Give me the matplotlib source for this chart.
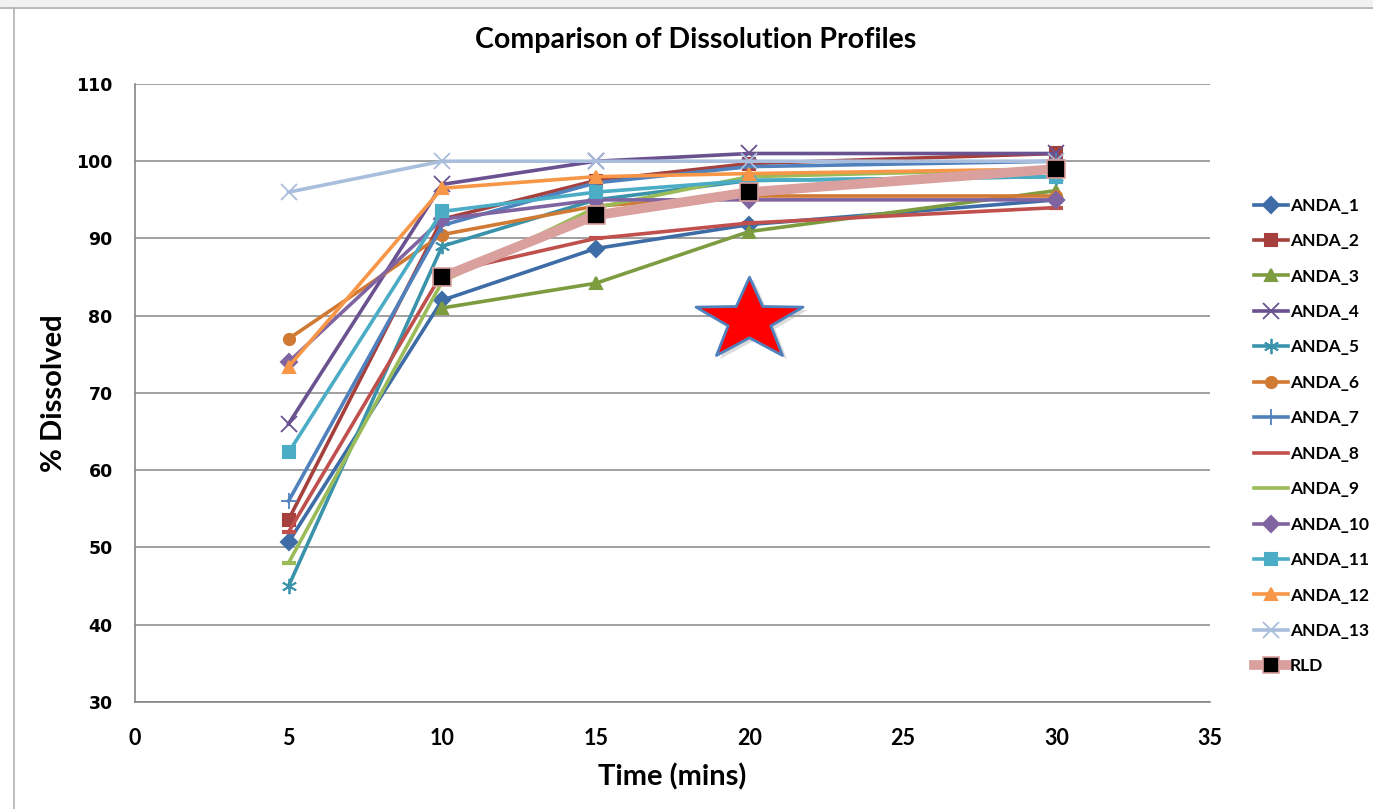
import numpy as np
import matplotlib.pyplot as plt
from matplotlib.path import Path
from matplotlib.lines import Line2D

# time points (mins)
times = [5, 10, 15, 20, 30]

anda_1 = [50.7, 82.0, 88.7, 91.8, 95.0]
anda_2 = [53.6, 92.5, 97.5, 99.7, 101.0]
anda_3 = [np.nan, 81.0, 84.2, 90.9, 96.2]
anda_4 = [66.0, 97.0, 100.0, 101.0, 101.0]
anda_5 = [45.0, 89.0, 95.0, 97.5, 98.0]
anda_6 = [77.0, 90.5, 94.2, 95.5, 95.5]
anda_7 = [56.0, 91.7, 97.2, 99.3, 100.0]
anda_8 = [52.0, 85.5, 90.0, 92.0, 94.0]
anda_9 = [48.0, 84.4, 94.0, 98.0, 99.0]
anda_10 = [74.0, 92.5, 95.0, 95.0, 95.0]
anda_11 = [62.3, 93.5, 96.0, 97.5, 98.0]
anda_12 = [73.4, 96.5, 98.0, 98.4, 99.0]
anda_13 = [96.0, 100.0, 100.0, 100.0, 100.0]
rld = [np.nan, 85.0, 93.0, 96.0, 99.0]

labels = ["ANDA_1", "ANDA_2", "ANDA_3", "ANDA_4", "ANDA_5", "ANDA_6", "ANDA_7",
          "ANDA_8", "ANDA_9", "ANDA_10", "ANDA_11", "ANDA_12", "ANDA_13"]
colors = ["#3D6CA6", "#A5403D", "#7D9C40", "#6A5190", "#3A93AB", "#D07A34", "#4F81BD",
          "#C0504D", "#9BBB59", "#8064A2", "#4BACC6", "#F79646", "#A9BEDC"]
markers = ["D", "s", "^", "x", (6, 2, 0), "o", "+", "_", "_", "D", "s", "^", "x"]

# annotation star
star_x, star_y = 20, 79.5


def star_path(inner=0.40, squash=0.77):
    ang = np.pi / 2 + np.arange(10) * np.pi / 5
    rad = np.where(np.arange(10) % 2 == 0, 1.0, inner)
    verts = np.column_stack([rad * np.cos(ang), rad * np.sin(ang) * squash])
    verts = np.vstack([verts, verts[:1]])
    codes = [Path.MOVETO] + [Path.LINETO] * 9 + [Path.CLOSEPOLY]
    return Path(verts, codes)


def main():
    fig = plt.figure(figsize=(13.73, 8.09), dpi=100)
    ax = fig.add_axes([0.0983, 0.1323, 0.783, 0.7639])

    series = [anda_1, anda_2, anda_3, anda_4, anda_5, anda_6, anda_7,
              anda_8, anda_9, anda_10, anda_11, anda_12, anda_13]
    handles = []
    for vals, lab, col, mk in zip(series, labels, colors, markers):
        ms = 8
        mew = 1.5
        if mk in ("x", "+") or isinstance(mk, tuple):
            ms, mew = 11, 1.3
        if mk == "_":
            ms, mew = 10, 3
        ax.plot(times, vals, color=col, lw=2.6, marker=mk, ms=ms, mew=mew,
                mec=col, mfc=col, zorder=3)
        leg_mk = None if mk == "_" else mk
        handles.append(Line2D([], [], color=col, lw=2.6, marker=leg_mk, ms=ms,
                              mew=mew, mec=col, mfc=col, label=lab))

    ax.plot(times, rld, color="#D9A09E", lw=7, marker="s", ms=13, mfc="black",
            mec="#D9A09E", mew=1.2, zorder=4)
    handles.append(Line2D([], [], color="#D9A09E", lw=7, marker="s", ms=11,
                          mfc="black", mec="#D9A09E", mew=1.2, label="RLD"))

    sp = star_path()
    ax.plot(star_x + 0.12, star_y - 0.5, marker=sp, ms=78, color="#999999",
            alpha=0.35, mew=0, zorder=5)
    ax.plot(star_x, star_y, marker=sp, ms=77, mfc="red", mec="#4F81BD",
            mew=2, zorder=6)

    ax.set_xlim(0, 35)
    ax.set_ylim(30, 110)
    ax.set_xticks(range(0, 36, 5))
    ax.set_yticks(range(30, 111, 10))
    ax.grid(axis="y", color="#868686", lw=1.1)
    ax.set_axisbelow(True)
    for s in ("top", "right"):
        ax.spines[s].set_visible(False)
    for s in ("left", "bottom"):
        ax.spines[s].set_color("#868686")
        ax.spines[s].set_linewidth(1.2)
    ax.tick_params(length=0)
    for t in ax.get_yticklabels():
        t.set_fontfamily("DejaVu Sans")
        t.set_fontweight("bold")
        t.set_fontsize(12.5)
    for t in ax.get_xticklabels():
        t.set_fontfamily("Lato")
        t.set_fontweight("bold")
        t.set_fontsize(15.5)
    ax.tick_params(axis="x", pad=19)
    ax.tick_params(axis="y", pad=16)

    ax.set_xlabel("Time (mins)", fontfamily="Lato", fontweight="bold", fontsize=21)
    ax.xaxis.set_label_coords(0.5, -0.100)
    ax.set_ylabel("% Dissolved", fontfamily="Lato", fontweight="bold", fontsize=21)
    ax.yaxis.set_label_coords(-0.063, 0.5)
    fig.text(0.507, 0.951, "Comparison of Dissolution Profiles", ha="center", va="center",
             fontfamily="Lato", fontweight="bold", fontsize=20.5)

    fig.legend(handles=handles, loc="center left", bbox_to_anchor=(0.907, 0.461),
               frameon=False, prop={"family": "Lato", "weight": "bold", "size": 12.5},
               handlelength=1.95, handletextpad=0.12, labelspacing=1.12, borderpad=0)

    # spreadsheet edges around the chart object
    fig.add_artist(Line2D([0, 1], [1 - 8 / 809] * 2, color="#B0B0B0", lw=1.2))
    fig.add_artist(Line2D([14 / 1373] * 2, [0, 1 - 8 / 809], color="#B0B0B0", lw=1.2))
    fig.patches.append(plt.Rectangle((0, 1 - 8 / 809), 1, 8 / 809, transform=fig.transFigure,
                                     color="#F2F2F2", zorder=0))

    fig.savefig("out.png", dpi=100)


if __name__ == "__main__":
    main()
